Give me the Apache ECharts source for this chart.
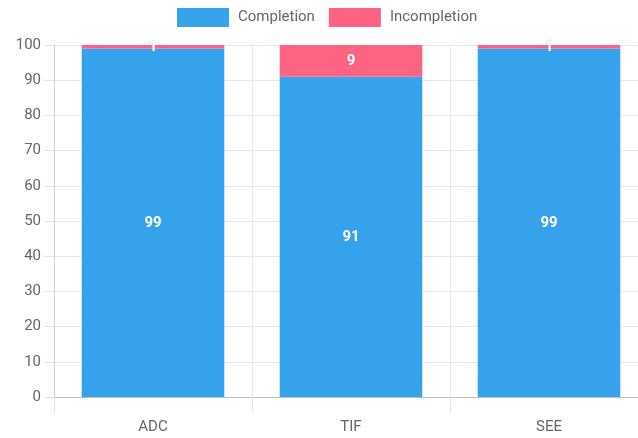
<!DOCTYPE html>
<html>
<head>
<meta charset="utf-8">
<script src="https://cdn.jsdelivr.net/npm/echarts@6/dist/echarts.min.js"></script>
<style>
  html, body { margin: 0; padding: 0; background: #fff; }
  #chart { width: 638px; height: 438px; }
</style>
</head>
<body>
<div id="chart"></div>
<script>
// Completion rate per unit (percent)
const categories = ['ADC', 'TIF', 'SEE'];
const completion = [99, 91, 99];
const incompletion = [1, 9, 1];
const yTicks = { min: 0, max: 100, interval: 10 };

const FONT = 'Roboto, "Liberation Sans", sans-serif';
const chart = echarts.init(document.getElementById('chart'), null, { renderer: 'canvas' });

const segLabel = {
  show: true,
  position: 'inside',
  color: '#fff',
  fontWeight: 'bold',
  fontSize: 15,
  fontFamily: FONT
};

chart.setOption({
  animation: false,
  backgroundColor: '#fff',
  legend: {
    top: 8,
    left: 177,
    padding: 0,
    itemWidth: 52,
    itemHeight: 19,
    itemGap: 14,
    icon: 'rect',
    textStyle: { color: '#666', fontSize: 15, fontFamily: FONT, padding: [0, 0, 0, 4] },
    data: ['Completion', 'Incompletion']
  },
  // plot runs a little past the right edge of the canvas
  grid: {
    left: 54, right: -10, top: 45, bottom: 41,
    containLabel: false,
    outerBoundsMode: 'none'
  },
  xAxis: {
    type: 'category',
    data: categories,
    axisLine: { show: true, lineStyle: { color: '#bdbdbd', width: 1 } },
    axisTick: { show: true, alignWithLabel: false, length: 16, lineStyle: { color: '#e3e3e3' } },
    axisLabel: { color: '#666', fontSize: 15, fontFamily: FONT, margin: 23 },
    splitLine: { show: true, lineStyle: { color: '#e8e8e8' } }
  },
  yAxis: {
    type: 'value',
    min: yTicks.min,
    max: yTicks.max,
    interval: yTicks.interval,
    axisLine: { show: true, lineStyle: { color: '#cfcfcf' } },
    axisTick: { show: true, length: 10, lineStyle: { color: '#e3e3e3' } },
    axisLabel: { color: '#666', fontSize: 15, fontFamily: FONT, margin: 13 },
    splitLine: { show: true, lineStyle: { color: '#e8e8e8' } }
  },
  series: [
    {
      name: 'Completion',
      type: 'bar',
      stack: 'total',
      barWidth: '72%',
      data: completion,
      itemStyle: { color: '#36A2EB' },
      label: segLabel
    },
    {
      name: 'Incompletion',
      type: 'bar',
      stack: 'total',
      barWidth: '72%',
      data: incompletion,
      itemStyle: { color: '#FF6384' },
      label: Object.assign({}, segLabel, { textBorderColor: 'rgba(120,120,120,0.25)', textBorderWidth: 1 })
    }
  ]
});
</script>
</body>
</html>
